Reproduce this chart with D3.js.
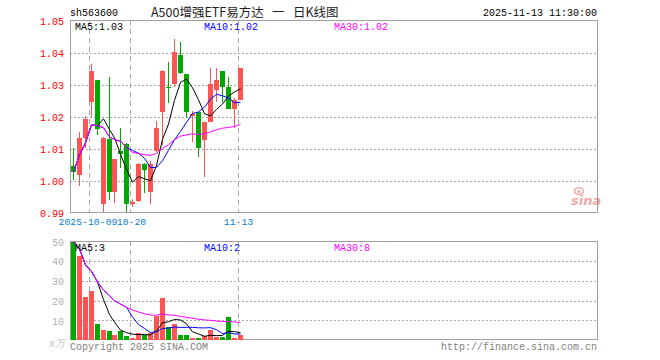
<!DOCTYPE html>
<html>
<head>
<meta charset="utf-8">
<script src="https://cdn.jsdelivr.net/npm/d3@7"></script>
<style>
  body { margin: 0; background: #fff; }
  svg { display: block; }
  .mono { font-family: "Liberation Mono", "DejaVu Sans Mono", monospace; font-size: 10px; }
</style>
</head>
<body>
<svg id="chart" width="660" height="360"></svg>
<script>
// K-line data
var dates = ["2025-09-26", "2025-09-29", "2025-09-30", "2025-10-09", "2025-10-10", "2025-10-13",
    "2025-10-14", "2025-10-15", "2025-10-16", "2025-10-17", "2025-10-20", "2025-10-21",
    "2025-10-22", "2025-10-23", "2025-10-24", "2025-10-27", "2025-10-28", "2025-10-29",
    "2025-10-30", "2025-10-31", "2025-11-03", "2025-11-04", "2025-11-05", "2025-11-06",
    "2025-11-07", "2025-11-10", "2025-11-11", "2025-11-12", "2025-11-13"];
var opens = [1.0043, 1.0016, 1.0132, 1.0243, 1.0313, 0.9925, 1.0128, 0.9963, 1.0092, 1.0113,
    0.9924, 0.9935, 1.0050, 0.9964, 1.0090, 1.0214, 1.0292, 1.0300, 1.0390, 1.0331,
    1.0200, 1.0211, 1.0125, 1.0182, 1.0281, 1.0342, 1.0292, 1.0222, 1.0250];
var highs = [1.0101, 1.0150, 1.0199, 1.0362, 1.0313, 1.0135, 1.0321, 1.0066, 1.0163, 1.0115,
    0.9940, 1.0052, 1.0052, 1.0058, 1.0183, 1.0345, 1.0370, 1.0441, 1.0430, 1.0331,
    1.0215, 1.0211, 1.0182, 1.0350, 1.0350, 1.0342, 1.0323, 1.0255, 1.0350];
var lows = [1.0000, 0.9981, 1.0099, 1.0198, 1.0140, 0.9900, 0.9938, 0.9929, 1.0039, 0.9900,
    0.9915, 0.9930, 0.9958, 0.9924, 1.0088, 1.0110, 1.0240, 1.0290, 1.0330, 1.0195,
    1.0120, 1.0071, 1.0010, 1.0180, 1.0245, 1.0245, 1.0222, 1.0161, 1.0250];
var closes = [1.0025, 1.0132, 1.0191, 1.0341, 1.0160, 1.0132, 0.9963, 1.0065, 1.0082, 0.9924,
    0.9932, 1.0050, 1.0032, 1.0050, 1.0163, 1.0340, 1.0290, 1.0400, 1.0333, 1.0213,
    1.0206, 1.0101, 1.0182, 1.0301, 1.0312, 1.0292, 1.0222, 1.0250, 1.0350];
// volume, in 万
var volumes = [49.5, 42.4, 21.7, 24.6, 7.9, 4.8, 4.3, 2.3, 4.3, 1.8,
    0.8, 3.3, 2.3, 3.5, 12.1, 21.0, 6.3, 7.9, 2.3, 2.3,
    0.8, 0.8, 1.9, 4.8, 1.5, 1.5, 11.2, 0.8, 2.3];

var priceTicks = [1.05, 1.04, 1.03, 1.02, 1.01, 1.00, 0.99];
var volTicks = [50, 40, 30, 20, 10];
var markIdx = [3, 10, 28];
var markLabels = ["2025-10-09", "10-20", "11-13"];
var labelShift = [-1.5, 1, 0];

var maDefs = [{n: 5, color: "#000000"}, {n: 10, color: "#0000ff"}, {n: 30, color: "#ff00ff"}];

var RED = "#ff5454", GREEN = "#00a800", FRAME = "#a0a0a0", GRID = "#aaaaaa";

// moving average over what is available
function movingAvg(arr, n) {
    return arr.map(function(d, i) {
        return d3.mean(arr.slice(Math.max(0, i - n + 1), i + 1));
    });
}

var svg = d3.select("#chart");
var L = 70, R = 597;
var slots = 88;

var x = d3.scaleLinear().domain([0, slots - 1]).range([72.7, 72.7 + 5.97 * (slots - 1)]);
var y = d3.scaleLinear().domain([0.99, 1.05]).range([212, 20]);
var yv = d3.scaleLinear().domain([0, 50]).range([339.5, 241]);

var px = function(i) { return Math.round(x(i)); };
var up = function(i) { return closes[i] >= opens[i]; };

svg.append("rect").attr("width", 660).attr("height", 360).attr("fill", "#fff");

// ---- header
var cjk = "'Noto Sans CJK SC', sans-serif";
svg.append("text").attr("class", "mono").attr("x", L).attr("y", 16).text("sh563600");
[["A500增强ETF易方达", 151], ["一", 272], ["日K线图", 293]].forEach(function(t) {
    svg.append("text").attr("x", t[1]).attr("y", 17)
        .style("font-family", cjk).style("font-size", "12.5px")
        .attr("fill", "#222").text(t[0]);
});
svg.append("text").attr("class", "mono").attr("x", R).attr("y", 16)
    .attr("text-anchor", "end").text("2025-11-13 11:30:00");

// ---- panels: grid, frame, axes
function panel(scale, ticks, gridTicks, top, bottom, fmt, color) {
    var g = svg.append("g").style("shape-rendering", "crispEdges");
    g.append("g").attr("transform", "translate(" + L + ",0.5)")
        .call(d3.axisLeft(scale).tickValues(gridTicks).tickSize(-(R - L)).tickFormat(""))
        .call(function(s) { s.select(".domain").remove(); })
        .selectAll("line").attr("stroke", GRID).attr("stroke-dasharray", "2,2");

    markIdx.forEach(function(i) {
        g.append("line")
            .attr("x1", px(i) - 1.5).attr("x2", px(i) - 1.5)
            .attr("y1", top).attr("y2", bottom)
            .attr("stroke", GRID).attr("stroke-dasharray", "5,4");
    });

    g.append("rect").attr("x", L + 0.5).attr("y", top + 0.5)
        .attr("width", R - L).attr("height", bottom - top)
        .attr("fill", "none").attr("stroke", FRAME);

    var ax = svg.append("g").attr("transform", "translate(" + (L - 3) + ",1)")
        .call(d3.axisLeft(scale).tickValues(ticks).tickSize(0).tickFormat(fmt));
    ax.select(".domain").remove();
    ax.selectAll("text").attr("class", "mono").attr("fill", color)
        .style("font-family", "'Liberation Mono', monospace").style("font-size", "10px");
}

panel(y, priceTicks, [1.04, 1.03, 1.02, 1.01, 1.00], 20, 212, d3.format(".2f"), "#ff0000");
panel(yv, volTicks, [40, 30, 20, 10], 241, 339, d3.format("d"), "#b0b0b0");

// ---- candles
var candles = svg.append("g").style("shape-rendering", "crispEdges");
candles.selectAll("line").data(closes).enter().append("line")
    .attr("x1", function(d, i) { return px(i) + 0.5; })
    .attr("x2", function(d, i) { return px(i) + 0.5; })
    .attr("y1", function(d, i) { return y(highs[i]); })
    .attr("y2", function(d, i) { return y(lows[i]); })
    .attr("stroke", function(d, i) { return up(i) ? RED : GREEN; });
candles.selectAll("rect").data(closes).enter().append("rect")
    .attr("x", function(d, i) { return px(i) - 2; })
    .attr("width", 5)
    .attr("y", function(d, i) { return y(Math.max(opens[i], closes[i])); })
    .attr("height", function(d, i) { return Math.max(1, Math.abs(y(opens[i]) - y(closes[i]))); })
    .attr("fill", function(d, i) { return up(i) ? RED : GREEN; });

// ---- volume bars
svg.append("g").style("shape-rendering", "crispEdges")
    .selectAll("rect").data(volumes).enter().append("rect")
    .attr("x", function(d, i) { return px(i) - 2; })
    .attr("width", 5)
    .attr("y", function(d) { return yv(d); })
    .attr("height", function(d) { return yv(0) - yv(d); })
    .attr("fill", function(d, i) { return up(i) ? RED : GREEN; });

// ---- moving average lines
maDefs.forEach(function(m) {
    var pm = movingAvg(closes, m.n);
    var vm = movingAvg(volumes, m.n);
    var line = d3.line().x(function(d, i) { return px(i) + 0.5; });
    svg.append("path").datum(pm)
        .attr("d", line.y(function(d) { return y(d); }))
        .attr("fill", "none").attr("stroke", m.color).attr("stroke-width", 1);
    svg.append("path").datum(vm)
        .attr("d", line.y(function(d) { return yv(d); }))
        .attr("fill", "none").attr("stroke", m.color).attr("stroke-width", 1);
    m.price = pm[pm.length - 1];
    m.vol = vm[vm.length - 1];
});

// ---- MA legends
var legX = [75, 204, 334];
maDefs.forEach(function(m, k) {
    svg.append("text").attr("class", "mono").attr("x", legX[k]).attr("y", 30)
        .attr("fill", m.color).text("MA" + m.n + ":" + m.price.toFixed(2));
    svg.append("text").attr("class", "mono").attr("x", legX[k]).attr("y", 251)
        .attr("fill", m.color).text("MA" + m.n + ":" + Math.floor(m.vol));
});

// ---- date labels
markIdx.forEach(function(i, k) {
    svg.append("text").attr("class", "mono").attr("x", px(i) - 1.5 + labelShift[k]).attr("y", 225)
        .attr("text-anchor", "middle").attr("fill", "#0a80d0")
        .style("font-size", "9.8px").text(markLabels[k]);
});

// ---- footer / watermark
svg.append("text").attr("class", "mono").attr("x", 49).attr("y", 347)
    .attr("fill", "#c0c0c0").style("font-style", "italic").text("x万");
svg.append("text").attr("class", "mono").attr("x", L).attr("y", 350)
    .attr("fill", "#808080").text("Copyright 2025 SINA.COM");
svg.append("text").attr("class", "mono").attr("x", R).attr("y", 350)
    .attr("text-anchor", "end").attr("fill", "#808080").text("http://finance.sina.com.cn");

var logo = svg.append("g").attr("opacity", 0.45);
logo.append("ellipse").attr("cx", 579).attr("cy", 191).attr("rx", 4.5).attr("ry", 3.5)
    .attr("fill", "none").attr("stroke", "#e04040").attr("stroke-width", 1.5);
logo.append("circle").attr("cx", 579).attr("cy", 191.5).attr("r", 1.5).attr("fill", "#e04040");
logo.append("text").attr("x", 571).attr("y", 205)
    .style("font-family", "'DejaVu Sans', sans-serif").style("font-size", "13px")
    .style("font-style", "italic").style("font-weight", "bold")
    .attr("fill", "#e04040").text("sina");
</script>
</body>
</html>
